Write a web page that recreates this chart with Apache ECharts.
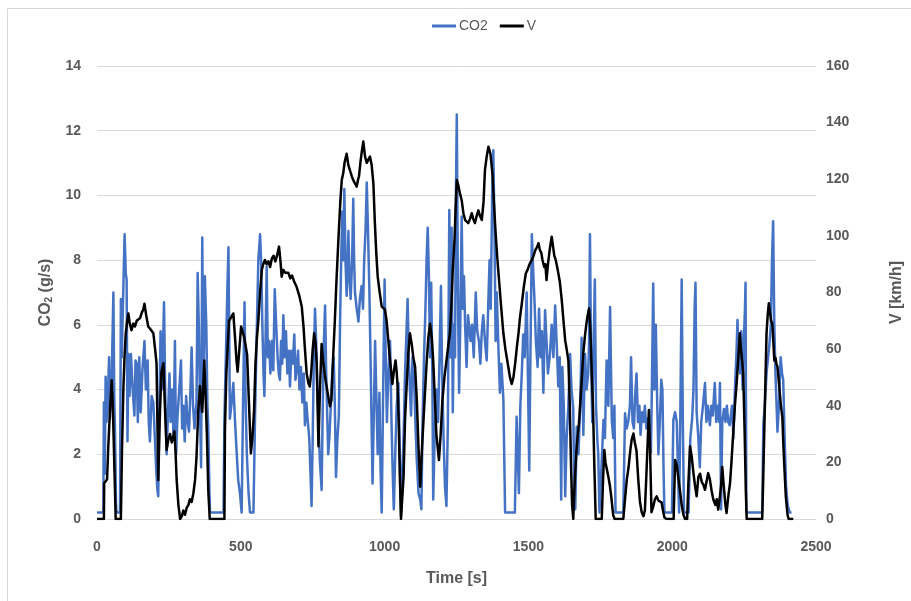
<!DOCTYPE html>
<html><head><meta charset="utf-8">
<script src="https://cdn.jsdelivr.net/npm/echarts@6/dist/echarts.min.js"></script>
<style>html,body{margin:0;padding:0;background:#fff}#c{width:911px;height:601px}</style>
</head><body><div id="c"></div>
<script>
const xTicks = [0, 500, 1000, 1500, 2000, 2500];
const legendNames = ['CO2', 'V'];
const co2Series = [
[0,0.2],[22,0.2],[24,3.6],[27,1.4],[30,4.4],[33,3.0],[37,3.6],[42,5.0],[45,3.1],[51,4.3],[57,7.0],[60,3.8],[63,2.5],[66,0.5],[68,0.2],[80,0.2],[83,6.8],[86,5.0],[90,6.5],[96,8.8],[100,7.6],[103,7.4],[106,2.4],[109,5.1],[113,3.8],[118,5.1],[124,4.0],[130,3.2],[134,4.9],[138,4.8],[142,3.0],[147,5.0],[152,3.3],[158,4.6],[165,5.5],[170,4.0],[176,4.9],[180,3.0],[184,2.4],[190,3.8],[196,3.6],[202,3.6],[206,1.5],[210,0.9],[213,0.7],[217,3.5],[221,5.8],[226,4.0],[233,6.7],[237,4.0],[242,2.0],[247,3.3],[252,4.5],[256,3.0],[262,4.0],[266,2.5],[271,5.5],[275,2.0],[280,3.2],[286,4.0],[292,4.9],[296,2.8],[300,3.5],[305,2.4],[310,3.8],[315,3.0],[320,2.7],[325,4.0],[329,5.3],[334,3.5],[339,2.8],[346,3.6],[350,7.6],[354,6.0],[358,3.5],[362,1.6],[366,8.7],[370,4.0],[375,7.5],[380,6.0],[384,3.5],[387,2.8],[391,0.8],[393,0.2],[440,0.2],[443,3.1],[448,5.0],[453,7.0],[457,8.4],[460,5.5],[462,3.1],[467,3.5],[474,4.2],[480,3.0],[486,2.0],[491,1.2],[497,0.8],[503,0.2],[507,3.0],[513,6.7],[517,3.5],[521,2.0],[527,0.8],[532,0.2],[544,0.2],[550,3.4],[556,6.0],[561,8.0],[567,8.8],[571,7.9],[575,6.0],[579,4.5],[582,3.8],[586,5.5],[590,7.8],[594,5.0],[598,5.5],[603,4.5],[608,5.5],[613,4.6],[618,7.1],[623,6.0],[628,5.0],[632,4.5],[636,4.3],[640,5.5],[644,4.8],[648,6.3],[652,5.0],[657,5.8],[662,4.5],[667,5.2],[671,4.1],[676,5.2],[681,4.8],[686,5.7],[690,4.3],[694,4.6],[699,5.2],[704,4.0],[709,4.7],[714,3.6],[719,4.5],[723,2.9],[728,3.6],[733,3.0],[738,2.5],[742,1.5],[746,0.4],[750,2.5],[754,5.0],[758,6.5],[762,5.5],[766,4.0],[770,3.0],[775,1.8],[781,0.9],[785,3.5],[789,5.5],[793,6.6],[797,4.5],[801,3.0],[804,2.0],[808,2.5],[813,3.5],[818,4.5],[823,5.0],[827,3.5],[831,1.3],[836,2.5],[841,3.2],[845,6.0],[849,8.0],[853,9.5],[856,8.0],[860,10.2],[864,8.0],[868,6.9],[871,7.5],[874,8.9],[878,7.5],[882,6.8],[887,8.0],[891,9.9],[894,8.0],[897,7.0],[903,6.5],[909,6.1],[914,6.8],[920,7.2],[925,6.5],[929,8.0],[934,9.0],[938,10.4],[942,9.0],[947,7.1],[952,4.5],[958,1.1],[962,3.0],[967,5.5],[972,3.5],[976,2.0],[982,3.9],[986,1.5],[990,0.2],[995,4.0],[1000,7.4],[1004,5.0],[1008,3.0],[1013,4.5],[1019,5.5],[1024,3.0],[1028,1.5],[1032,0.3],[1037,2.0],[1042,3.5],[1048,4.2],[1053,2.0],[1057,0.1],[1062,0.1],[1066,2.5],[1071,4.5],[1075,5.5],[1080,6.8],[1084,5.0],[1088,4.0],[1092,3.2],[1097,5.0],[1102,4.5],[1107,3.0],[1112,1.8],[1118,0.8],[1124,0.6],[1128,0.3],[1132,3.0],[1137,5.0],[1142,6.5],[1146,8.0],[1150,9.0],[1154,7.5],[1158,5.0],[1162,7.3],[1166,4.5],[1169,0.6],[1174,2.5],[1180,4.0],[1186,3.0],[1191,5.0],[1196,7.2],[1200,4.5],[1205,2.5],[1210,1.0],[1215,0.4],[1220,3.0],[1225,9.55],[1229,5.0],[1233,9.0],[1237,3.3],[1241,6.0],[1245,5.0],[1248,10.0],[1251,12.5],[1255,7.0],[1259,3.9],[1263,6.0],[1268,9.35],[1272,6.5],[1276,7.5],[1280,6.0],[1285,4.7],[1290,6.3],[1294,6.3],[1299,5.5],[1304,6.0],[1310,5.0],[1317,7.0],[1322,5.8],[1328,5.5],[1333,4.8],[1338,5.8],[1343,6.3],[1349,5.5],[1355,4.9],[1360,6.5],[1365,8.0],[1369,6.5],[1374,10.0],[1378,11.4],[1382,9.0],[1386,5.5],[1390,7.0],[1395,5.5],[1401,3.9],[1406,4.8],[1413,3.7],[1419,0.2],[1453,0.2],[1459,3.16],[1463,2.0],[1467,0.8],[1472,3.5],[1477,4.5],[1482,5.7],[1487,5.0],[1494,7.0],[1499,4.0],[1503,1.5],[1507,5.0],[1512,8.8],[1517,7.6],[1521,6.8],[1526,5.5],[1532,4.7],[1537,6.5],[1542,5.0],[1547,5.8],[1552,3.9],[1558,6.45],[1563,5.5],[1568,4.5],[1575,5.1],[1581,6.0],[1587,5.0],[1593,6.6],[1598,5.5],[1604,4.1],[1609,5.0],[1614,0.6],[1618,4.7],[1623,3.5],[1628,0.7],[1633,2.5],[1639,3.5],[1645,5.1],[1650,4.0],[1656,3.4],[1660,0.5],[1663,0.3],[1668,2.85],[1674,2.0],[1680,3.5],[1685,5.6],[1691,2.6],[1697,5.1],[1702,4.0],[1708,4.5],[1711,5.5],[1714,8.8],[1718,5.0],[1722,3.0],[1727,5.5],[1731,7.4],[1735,3.5],[1740,2.4],[1743,2.0],[1747,0.2],[1752,0.2],[1756,2.0],[1761,3.06],[1766,2.5],[1772,4.9],[1778,3.5],[1784,6.55],[1790,3.06],[1795,2.5],[1799,3.5],[1803,0.2],[1830,0.2],[1836,3.27],[1842,2.8],[1848,3.06],[1853,3.5],[1857,5.0],[1862,3.0],[1867,2.8],[1871,3.8],[1876,4.5],[1881,3.0],[1886,3.5],[1890,2.6],[1895,3.3],[1900,3.0],[1905,3.5],[1910,2.8],[1915,3.1],[1920,2.5],[1926,2.05],[1930,4.5],[1934,7.28],[1938,4.0],[1943,6.0],[1948,3.5],[1952,2.0],[1957,3.0],[1962,4.3],[1966,4.0],[1970,1.5],[1973,0.2],[1999,0.2],[2004,3.06],[2010,3.3],[2016,3.0],[2020,1.5],[2024,0.2],[2028,3.0],[2033,7.4],[2037,3.0],[2041,0.2],[2057,0.2],[2063,2.5],[2069,3.06],[2074,4.0],[2078,6.5],[2081,7.3],[2085,3.3],[2091,2.5],[2096,1.6],[2101,3.0],[2107,3.5],[2114,4.2],[2119,3.0],[2124,3.5],[2131,2.9],[2136,3.5],[2141,3.2],[2148,4.2],[2153,3.0],[2158,3.5],[2163,3.0],[2166,4.2],[2170,0.3],[2174,3.0],[2180,3.4],[2185,3.0],[2190,3.5],[2195,3.0],[2200,2.9],[2204,2.85],[2208,3.5],[2213,2.5],[2218,4.0],[2223,5.0],[2227,6.15],[2231,5.0],[2236,4.5],[2240,5.8],[2245,4.0],[2249,5.5],[2253,6.5],[2255,7.3],[2258,0.2],[2313,0.2],[2317,2.95],[2322,3.5],[2328,4.5],[2334,4.5],[2338,5.4],[2343,6.0],[2347,8.0],[2351,9.2],[2355,6.0],[2359,4.5],[2363,3.5],[2366,2.7],[2371,3.5],[2377,5.0],[2382,4.5],[2386,4.3],[2391,2.5],[2396,1.0],[2402,0.4],[2409,0.2],[2415,0.2]
];
const speedSeries = [
[0,0],[24,0],[25,12.6],[30,13],[35,14],[39,25],[45,38],[51,49],[55,40],[60,20],[65,0],[83,0],[87,25],[92,47],[96,58],[100,65.6],[105,70],[109,72.6],[114,69],[120,66.7],[126,69],[132,68],[138,70],[144,70],[150,71],[156,73],[161,74],[165,76],[171,72],[178,68],[186,67],[196,65.6],[202,60],[207,55],[210,35],[213,13.8],[218,35],[224,52],[231,55],[236,40],[242,24.4],[248,28],[254,30],[260,27],[265,29],[269,31],[273,24],[277,13.8],[283,5],[289,0],[295,1],[300,3],[306,1.5],[312,4],[318,5],[323,7],[329,6],[335,9],[341,13.8],[346,22],[352,38],[358,47],[362,42],[366,37.8],[370,48],[373,56],[377,45],[382,30],[387,10],[392,0],[443,0],[445,32.6],[450,52],[455,62],[459,70],[465,71],[474,72.6],[480,64],[485,56],[489,52],[495,60],[501,68],[507,66],[512,64],[517,64.4],[522,58],[528,42],[535,23.2],[540,28],[546,38],[551,55],[556,64],[561,70],[567,80],[573,88],[578,90],[584,91.5],[590,90],[596,91],[602,89],[608,92],[614,93],[620,91],[626,93],[633,96.2],[638,91],[642,85.6],[648,88],[654,87],[659,86.8],[665,87],[672,85],[678,86],[685,84],[694,82],[703,79],[712,75],[718,68],[723,60],[729,51.5],[735,48],[740,46.8],[745,52],[750,60],[755,65.6],[760,62],[764,55],[770,25.7],[775,45],[781,61.8],[786,56],[793,50.3],[798,47],[803,44],[810,39.8],[815,42],[820,55],[827,70],[833,85],[840,100],[846,112],[851,119.7],[856,122],[861,126],[868,129],[874,125],[880,123],[886,121],[891,119.7],[897,118.5],[903,117.4],[908,120],[911,121],[916,126],[921,130],[926,133.3],[932,128],[938,125.8],[944,127],[949,128],[955,125],[961,118.5],[966,105],[971,94],[976,85.6],[983,80],[990,75],[995,74.5],[1001,74],[1007,70],[1013,63],[1019,56],[1023,52],[1027,47.7],[1032,52],[1038,56],[1042,52],[1045,47],[1049,35],[1053,15],[1057,0],[1062,0],[1066,15],[1071,35],[1077,48],[1082,58],[1088,65.6],[1094,62],[1100,57],[1106,53.8],[1112,42],[1118,25],[1124,11.4],[1130,25],[1139,42],[1146,55],[1152,64],[1158,69],[1164,64],[1169,56],[1175,42],[1180,30],[1189,20.8],[1195,30],[1201,42],[1208,50],[1214,55],[1220,60],[1227,65.6],[1232,75],[1237,88],[1243,98.5],[1247,110],[1251,119.7],[1256,118],[1262,115],[1268,112.6],[1274,108],[1280,105.6],[1286,106],[1291,104.5],[1297,106],[1303,108],[1308,106],[1314,104.5],[1320,107],[1326,109],[1332,107],[1338,105.6],[1344,112],[1349,123.3],[1355,128],[1361,131.5],[1368,129],[1375,122],[1380,112],[1386,101],[1392,92],[1399,83],[1406,74],[1413,65.6],[1420,60],[1430,53.8],[1436,50],[1442,47.7],[1448,50],[1454,55],[1460,60.8],[1466,66],[1471,71.4],[1477,76],[1484,82],[1491,86.7],[1497,88],[1504,90],[1512,91.5],[1518,93],[1524,95],[1530,96],[1535,97.4],[1540,95],[1545,94],[1549,91.5],[1555,89],[1559,90],[1563,84.4],[1568,90],[1574,95],[1581,99.7],[1586,96],[1590,93],[1595,91.5],[1602,88],[1609,84],[1616,77.3],[1622,70],[1628,63],[1633,60],[1639,56],[1644,40],[1648,20],[1652,5],[1656,0],[1659,8],[1662,14.9],[1667,24],[1671,29.1],[1676,34],[1681,42],[1686,50],[1691,58.7],[1697,65],[1703,70],[1708,73],[1711,74.4],[1715,68],[1720,52.6],[1725,38],[1729,20],[1734,0],[1755,0],[1760,15],[1764,24.4],[1768,20],[1772,18],[1778,14.9],[1783,12],[1788,8],[1795,1.2],[1800,0],[1830,0],[1836,7],[1842,13.8],[1848,18],[1854,24],[1859,28],[1865,30.2],[1870,27],[1876,24],[1882,14],[1888,6],[1894,2.4],[1900,1],[1905,3],[1910,15],[1915,28],[1919,38.5],[1923,25],[1928,2.4],[1933,4],[1940,7],[1946,8],[1952,6.5],[1958,7],[1963,5.9],[1968,3],[1973,0.5],[1980,0],[2005,0],[2010,20.8],[2016,19],[2021,18.4],[2027,10],[2033,5],[2039,1.5],[2045,0],[2052,0],[2056,12],[2062,25.7],[2068,22],[2073,17],[2079,12],[2085,8],[2091,14.9],[2097,16],[2103,13],[2109,12],[2114,10.3],[2119,13],[2125,16.2],[2131,14],[2137,10],[2143,6.9],[2150,5],[2155,7],[2160,3.3],[2166,8],[2170,12],[2174,18.4],[2179,12],[2185,5],[2189,2.1],[2195,8],[2201,12.6],[2206,20],[2212,30.2],[2218,40],[2224,47.9],[2230,57],[2235,65.6],[2239,60],[2243,56],[2247,51.4],[2252,30],[2256,10],[2259,0],[2313,0],[2316,12],[2320,30.2],[2324,48],[2328,65.6],[2332,72],[2336,76.2],[2340,73],[2344,70],[2348,69],[2352,62],[2355,56],[2359,57],[2362,55],[2366,53.8],[2372,47],[2378,40],[2383,36],[2387,25],[2390,18.4],[2395,8],[2401,1.5],[2405,0],[2421,0]
];

const FONT = '"Liberation Sans", Arial, sans-serif';
const GREY = '#595959';
const chart = echarts.init(document.getElementById('c'), null, {renderer: 'canvas'});
chart.setOption({
  animation: false,
  backgroundColor: '#fff',
  graphic: [{type: 'rect', shape: {x: 7.5, y: 8.5, width: 920, height: 620}, style: {fill: 'none', stroke: '#d9d9d9', lineWidth: 1}, silent: true}],
  legend: {
    data: legendNames, top: 14, left: 427, itemGap: 12, itemWidth: 24, itemHeight: 3, icon: 'rect',
    textStyle: {color: GREY, fontSize: 14, fontFamily: FONT, padding: [0, 0, 0, -2]}
  },
  grid: {left: 97, right: 95, top: 66, bottom: 82, containLabel: false, outerBoundsMode: 'none'},
  xAxis: {
    type: 'value', min: xTicks[0], max: xTicks[xTicks.length - 1], interval: 500,
    name: 'Time [s]', nameLocation: 'middle', nameGap: 52,
    nameTextStyle: {color: GREY, fontSize: 16, fontWeight: 'bold', fontFamily: FONT},
    axisLine: {show: true, lineStyle: {color: '#d9d9d9', width: 1}},
    axisTick: {show: false}, splitLine: {show: false},
    axisLabel: {color: GREY, fontSize: 14, fontWeight: 'bold', fontFamily: FONT, margin: 21, formatter: v => String(v)}
  },
  yAxis: [{
    type: 'value', min: 0, max: 14, interval: 2, position: 'left',
    name: 'CO{s|2} (g/s)', nameLocation: 'middle', nameGap: 42, nameRotate: 90,
    nameTextStyle: {color: GREY, fontSize: 16, fontWeight: 'bold', fontFamily: FONT,
      rich: {s: {fontSize: 10, fontWeight: 'bold', color: GREY, fontFamily: FONT, verticalAlign: 'bottom', padding: [7, 0, 0, 0]}}},
    axisLine: {show: false}, axisTick: {show: false},
    splitLine: {show: true, lineStyle: {color: '#d9d9d9', width: 1}},
    axisLabel: {color: GREY, fontSize: 14, fontWeight: 'bold', fontFamily: FONT, margin: 16, formatter: v => String(v)}
  }, {
    type: 'value', min: 0, max: 160, interval: 20, position: 'right',
    name: 'V [km/h]', nameLocation: 'middle', nameGap: 73, nameRotate: 90,
    nameTextStyle: {color: GREY, fontSize: 16, fontWeight: 'bold', fontFamily: FONT},
    axisLine: {show: false}, axisTick: {show: false}, splitLine: {show: false},
    axisLabel: {color: GREY, fontSize: 14, fontWeight: 'bold', fontFamily: FONT, margin: 10}
  }],
  series: [{
    name: legendNames[0], type: 'line', yAxisIndex: 0, data: co2Series, showSymbol: false, symbol: 'none',
    lineStyle: {color: '#4472C4', width: 2.5, join: 'round'}, itemStyle: {color: '#4472C4'}
  }, {
    name: legendNames[1], type: 'line', yAxisIndex: 1, data: speedSeries, showSymbol: false, symbol: 'none',
    lineStyle: {color: '#000000', width: 2.5, join: 'round'}, itemStyle: {color: '#000000'}
  }]
});
</script></body></html>
